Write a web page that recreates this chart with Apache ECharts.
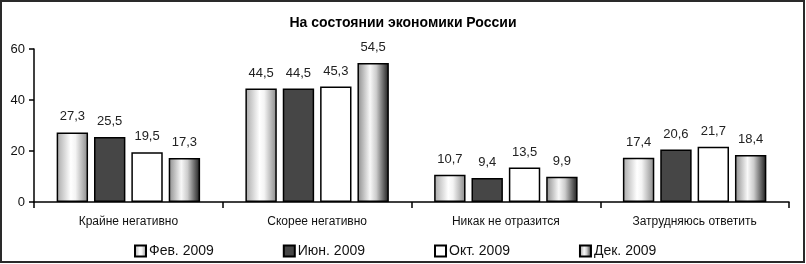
<!DOCTYPE html>
<html>
<head>
<meta charset="utf-8">
<script src="https://cdn.jsdelivr.net/npm/echarts@6/dist/echarts.min.js"></script>
<style>
    html, body { margin: 0; padding: 0; background: #fff; }
    #chart { width: 806px; height: 264px; }
</style>
</head>
<body>
<div id="chart"></div>
<script>
    var categories = ['Крайне негативно', 'Скорее негативно', 'Никак не отразится', 'Затрудняюсь ответить'];
    var seriesNames = ['Фев. 2009', 'Июн. 2009', 'Окт. 2009', 'Дек. 2009'];
    var feb = [27.3, 44.5, 10.7, 17.4];
    var jun = [25.5, 44.5, 9.4, 20.6];
    var oct = [19.5, 45.3, 13.5, 21.7];
    var dec = [17.3, 54.5, 9.9, 18.4];
    var yTicks = [0, 20, 40, 60];

    var fontName = "'Liberation Sans', Arial, sans-serif";

    // заливки столбцов
    var fills = [
        new echarts.graphic.LinearGradient(0, 0, 1, 0, [
            {offset: 0, color: '#a8a8a8'},
            {offset: 0.45, color: '#ffffff'},
            {offset: 0.6, color: '#f4f4f4'},
            {offset: 1, color: '#888888'}
        ]),
        '#464646',
        '#ffffff',
        new echarts.graphic.LinearGradient(0, 0, 1, 0, [
            {offset: 0, color: '#8c8c8c'},
            {offset: 0.4, color: '#f8f8f8'},
            {offset: 0.6, color: '#cccccc'},
            {offset: 1, color: '#1a1a1a'}
        ])
    ];
    var allData = [feb, jun, oct, dec];

    var series = allData.map(function (d, i) {
        return {
            name: seriesNames[i],
            type: 'bar',
            data: d,
            barGap: '19%',
            barCategoryGap: '24%',
            itemStyle: {
                color: fills[i],
                borderColor: '#000',
                borderWidth: 1.5
            },
            label: {
                show: true,
                position: 'top',
                distance: 9,
                color: '#222',
                fontFamily: fontName,
                fontSize: 13,
                formatter: function (p) {
                    return String(p.value).replace('.', ',');
                }
            }
        };
    });

    var myChart = echarts.init(document.getElementById('chart'));
    myChart.setOption({
        animation: false,
        title: {
            text: 'На состоянии экономики России',
            left: 'center',
            top: 11,
            textStyle: {
                fontFamily: fontName,
                fontWeight: 'bold',
                fontSize: 14,
                color: '#000'
            }
        },
        legend: {
            data: seriesNames,
            left: 129,
            top: 239,
            icon: 'rect',
            itemWidth: 11,
            itemHeight: 11,
            itemGap: 69,
            itemStyle: { borderColor: '#000', borderWidth: 2 },
            textStyle: {
                fontFamily: fontName,
                fontSize: 14,
                color: '#111',
                padding: [0, 0, 0, -2]
            }
        },
        grid: {
            left: 34,
            right: 17,
            top: 49,
            bottom: 62
        },
        xAxis: {
            type: 'category',
            data: categories,
            axisLine: { lineStyle: { color: '#000', width: 1.5 } },
            axisTick: { show: true, length: 6, lineStyle: { color: '#000', width: 1.5 } },
            axisLabel: {
                margin: 14,
                color: '#111',
                fontFamily: fontName,
                fontSize: 12
            }
        },
        yAxis: {
            type: 'value',
            min: yTicks[0],
            max: yTicks[yTicks.length - 1],
            interval: 20,
            axisLine: { show: true, lineStyle: { color: '#000', width: 1.5 } },
            axisTick: { show: true, length: 5, lineStyle: { color: '#000', width: 1.5 } },
            splitLine: { show: false },
            axisLabel: {
                margin: 9,
                color: '#111',
                fontFamily: fontName,
                fontSize: 13
            }
        },
        graphic: [{
            type: 'rect',
            shape: { x: 1, y: 1, width: 803, height: 261 },
            style: { fill: 'none', stroke: '#2a2a2a', lineWidth: 2 },
            silent: true
        }],
        series: series
    });
</script>
</body>
</html>
